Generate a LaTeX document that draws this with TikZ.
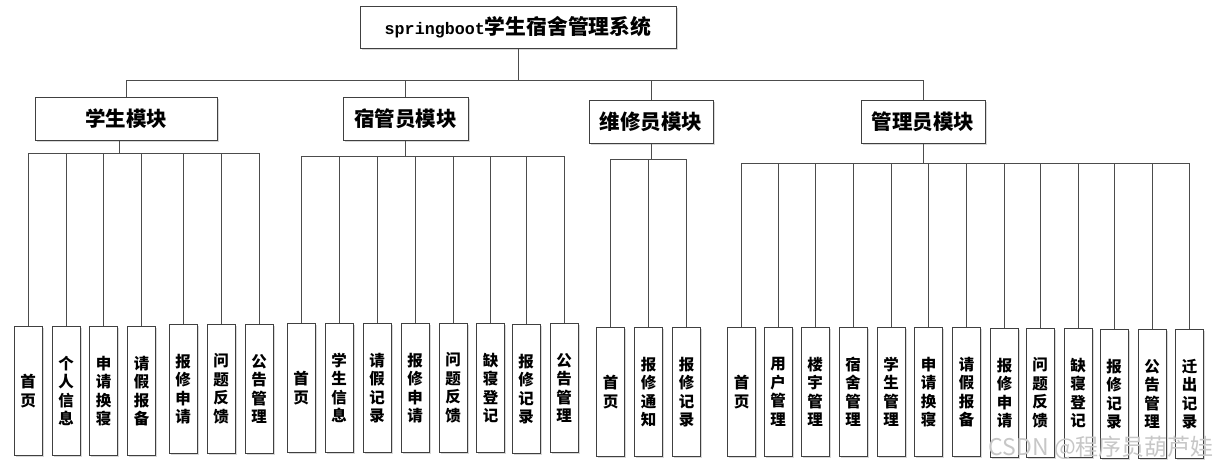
\documentclass[tikz,border=0pt]{standalone}
\usepackage{fontspec}
\newfontfamily\cjk{Noto Sans CJK SC}
\newfontfamily\monof{Liberation Mono}
\usetikzlibrary{shadows}
\tikzset{
  box/.style={draw=black!75, line width=0.8pt, fill=white, inner sep=0pt, align=center,
    drop shadow={shadow xshift=1.5pt, shadow yshift=-1.5pt, fill=black!30, opacity=0.5}},
  rootbox/.style={box, minimum width=316pt, minimum height=42pt},
  modbox/.style={box, minimum height=43pt, font=\cjk\bfseries\fontsize{20.5}{22}\selectfont},
  leaf/.style={box, minimum width=28pt, minimum height=129pt, font=\cjk\bfseries\fontsize{15.5}{18.5}\selectfont},
  wire/.style={draw=black!70, line width=0.8pt},
  mark text/.style={font=\cjk\fontsize{23}{26}\selectfont, text=black!22, anchor=east, inner sep=0pt}
}
\newcommand\leafnode[4]{\node[leaf, anchor=north] (#1) at (#2,#3) {#4};}
\begin{document}
\begin{tikzpicture}[x=1pt, y=-1pt]
\useasboundingbox (0,0) rectangle (1218,467);
% root
\node[rootbox, anchor=north] (root) at (518,6)
  {{\monof\bfseries\fontsize{16.7}{20}\selectfont springboot}{\cjk\bfseries\fontsize{20.8}{22}\selectfont 学生宿舍管理系统}};
% modules
\node[modbox, minimum width=182pt, anchor=north] (stu) at (126,97) {学生模块};
\node[modbox, minimum width=125pt, anchor=north] (war) at (405.5,97) {宿管员模块};
\node[modbox, minimum width=124pt, anchor=north] (rep) at (651,100) {维修员模块};
\node[modbox, minimum width=124pt, anchor=north] (adm) at (923,100) {管理员模块};
\coordinate (topbus) at (0,80);
\draw[wire] (root.south) -- (root.south |- topbus);
\draw[wire] (stu.north |- topbus) -- (adm.north |- topbus);
\foreach \m in {stu,war,rep,adm} \draw[wire] (\m.north) -- (\m.north |- topbus);
% student leaves
\leafnode{s1}{28}{326}{首\\页}
\leafnode{s2}{66}{326}{个\\人\\信\\息}
\leafnode{s3}{103.5}{326}{申\\请\\换\\寝}
\leafnode{s4}{141.5}{326}{请\\假\\报\\备}
\leafnode{s5}{183}{324}{报\\修\\申\\请}
\leafnode{s6}{221}{324}{问\\题\\反\\馈}
\leafnode{s7}{259}{324}{公\\告\\管\\理}
% warden leaves
\leafnode{w1}{301}{323}{首\\页}
\leafnode{w2}{339}{323}{学\\生\\信\\息}
\leafnode{w3}{377}{323}{请\\假\\记\\录}
\leafnode{w4}{415}{323}{报\\修\\申\\请}
\leafnode{w5}{453}{323}{问\\题\\反\\馈}
\leafnode{w6}{490.5}{323}{缺\\寝\\登\\记}
\leafnode{w7}{526}{324}{报\\修\\记\\录}
\leafnode{w8}{564}{323}{公\\告\\管\\理}
% repair leaves
\leafnode{r1}{610.5}{327}{首\\页}
\leafnode{r2}{648.5}{327}{报\\修\\通\\知}
\leafnode{r3}{686.5}{327}{报\\修\\记\\录}
% admin leaves
\leafnode{a1}{741.5}{327}{首\\页}
\leafnode{a2}{778}{327}{用\\户\\管\\理}
\leafnode{a3}{815}{327}{楼\\宇\\管\\理}
\leafnode{a4}{853}{327}{宿\\舍\\管\\理}
\leafnode{a5}{891}{327}{学\\生\\管\\理}
\leafnode{a6}{928.5}{327}{申\\请\\换\\寝}
\leafnode{a7}{966.5}{327}{请\\假\\报\\备}
\leafnode{a8}{1004.5}{328}{报\\修\\申\\请}
\leafnode{a9}{1040}{328}{问\\题\\反\\馈}
\leafnode{a10}{1078}{328}{缺\\寝\\登\\记}
\leafnode{a11}{1114}{329}{报\\修\\记\\录}
\leafnode{a12}{1152}{329}{公\\告\\管\\理}
\leafnode{a13}{1189.5}{329}{迁\\出\\记\\录}
% buses
\coordinate (sbus) at (0,153);
\coordinate (wbus) at (0,156);
\coordinate (rbus) at (0,159);
\coordinate (abus) at (0,163);
\draw[wire] ([xshift=-7pt]stu.south) -- ([xshift=-7pt]stu.south |- sbus);
\draw[wire] (s1.north |- sbus) -- (s7.north |- sbus);
\foreach \c in {s1,s2,s3,s4,s5,s6,s7} \draw[wire] (\c.north) -- (\c.north |- sbus);
\draw[wire] (war.south) -- (war.south |- wbus);
\draw[wire] (w1.north |- wbus) -- (w8.north |- wbus);
\foreach \c in {w1,w2,w3,w4,w5,w6,w7,w8} \draw[wire] (\c.north) -- (\c.north |- wbus);
\draw[wire] (rep.south) -- (rep.south |- rbus);
\draw[wire] (r1.north |- rbus) -- (r3.north |- rbus);
\foreach \c in {r1,r2,r3} \draw[wire] (\c.north) -- (\c.north |- rbus);
\draw[wire] (adm.south) -- (adm.south |- abus);
\draw[wire] (a1.north |- abus) -- (a13.north |- abus);
\foreach \c in {a1,a2,a3,a4,a5,a6,a7,a8,a9,a10,a11,a12,a13} \draw[wire] (\c.north) -- (\c.north |- abus);
% watermark
\node[mark text] (wm) at (1214,448) {CSDN @程序员葫芦娃};
\end{tikzpicture}
\end{document}
